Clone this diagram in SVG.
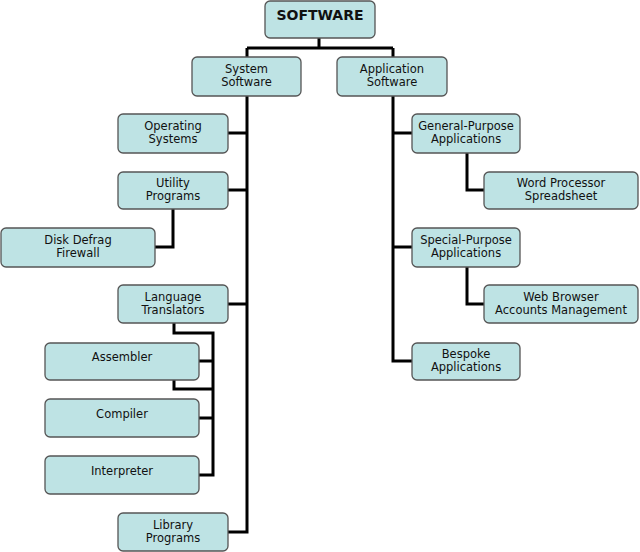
<svg xmlns="http://www.w3.org/2000/svg" width="640" height="552" viewBox="0 0 640 552">
<style>
.n rect{fill:#bee3e4;stroke:#555;stroke-width:1.3}
.n text{font-family:"DejaVu Sans",Verdana,sans-serif;font-size:11.5px;fill:#111;text-anchor:middle}
.c path{fill:none;stroke:#000;stroke-width:3}
</style>
<rect width="640" height="552" fill="#fff"/>
<g class="c">
<path d="M319 38V48M247 48H393M247 48V57M393 48V57"/>
<path d="M247 96V532H228M247 133H228M247 190H228M247 304H228"/>
<path d="M173 209V247H155"/>
<path d="M174 323V333H213V475H199M213 361H199M213 418H199M174 380V389H213"/>
<path d="M393 96V361H412M393 133H412M393 247H412"/>
<path d="M467 153V190H484M467 267V304H484"/>
</g>
<g class="n" id="software"><rect x="265" y="1" width="110" height="37" rx="5"/><text x="320" y="20" style="font-weight:bold;font-size:14px">SOFTWARE</text></g>
<g class="n" id="system"><rect x="192" y="57" width="109" height="39" rx="5"/><text x="246.5" y="73">System</text><text x="246.5" y="86">Software</text></g>
<g class="n" id="application"><rect x="337" y="57" width="110" height="39" rx="5"/><text x="392" y="73">Application</text><text x="392" y="86">Software</text></g>
<g class="n" id="os"><rect x="118" y="114" width="110" height="39" rx="5"/><text x="173" y="130">Operating</text><text x="173" y="143">Systems</text></g>
<g class="n" id="utility"><rect x="118" y="172" width="110" height="37" rx="5"/><text x="173" y="187">Utility</text><text x="173" y="200">Programs</text></g>
<g class="n" id="disk"><rect x="1" y="228" width="154" height="39" rx="5"/><text x="78" y="244">Disk Defrag</text><text x="78" y="257">Firewall</text></g>
<g class="n" id="lang"><rect x="118" y="285" width="110" height="38" rx="5"/><text x="173" y="301">Language</text><text x="173" y="314">Translators</text></g>
<g class="n" id="assembler"><rect x="45" y="343" width="154" height="37" rx="5"/><text x="122" y="361">Assembler</text></g>
<g class="n" id="compiler"><rect x="45" y="399" width="154" height="38" rx="5"/><text x="122" y="418">Compiler</text></g>
<g class="n" id="interpreter"><rect x="45" y="456" width="154" height="38" rx="5"/><text x="122" y="475">Interpreter</text></g>
<g class="n" id="library"><rect x="118" y="513" width="110" height="38" rx="5"/><text x="173" y="529">Library</text><text x="173" y="542">Programs</text></g>
<g class="n" id="general"><rect x="412" y="114" width="108" height="39" rx="5"/><text x="466" y="130">General-Purpose</text><text x="466" y="143">Applications</text></g>
<g class="n" id="word"><rect x="484" y="172" width="154" height="37" rx="5"/><text x="561" y="187">Word Processor</text><text x="561" y="200">Spreadsheet</text></g>
<g class="n" id="special"><rect x="412" y="228" width="108" height="39" rx="5"/><text x="466" y="244">Special-Purpose</text><text x="466" y="257">Applications</text></g>
<g class="n" id="web"><rect x="484" y="285" width="154" height="38" rx="5"/><text x="561" y="301">Web Browser</text><text x="561" y="314">Accounts Management</text></g>
<g class="n" id="bespoke"><rect x="412" y="343" width="108" height="37" rx="5"/><text x="466" y="358">Bespoke</text><text x="466" y="371">Applications</text></g>
</svg>
